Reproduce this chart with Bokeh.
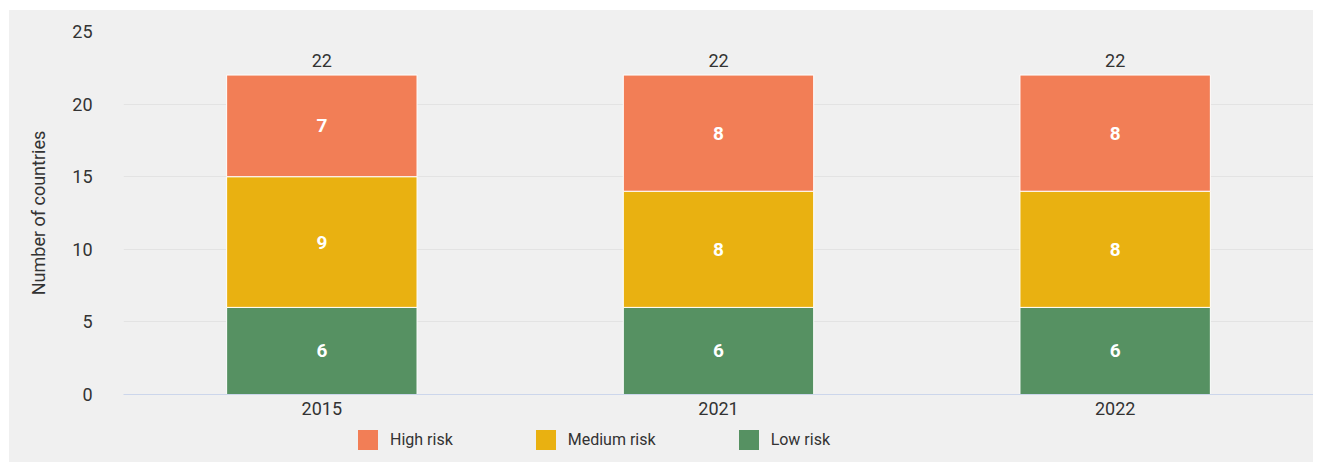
from bokeh.plotting import figure
from bokeh.layouts import column
from bokeh.models import ColumnDataSource, LabelSet, Legend, LegendItem, FixedTicker, Range1d
from bokeh.core.properties import value
from bokeh.embed import file_html
from bokeh.resources import INLINE

years = ["2015", "2021", "2022"]
low_risk = [6, 6, 6]
medium_risk = [9, 8, 8]
high_risk = [7, 8, 8]
series_names = ["Low risk", "Medium risk", "High risk"]
series_colors = ["#569162", "#e9b111", "#f27e56"]
y_ticks = [0, 5, 10, 15, 20, 25]

FONT = "Roboto"
TXT = "#333333"
BG = "#f0f0f0"

totals = [a + b + c for a, b, c in zip(low_risk, medium_risk, high_risk)]
src = ColumnDataSource(dict(year=years, low=low_risk, medium=medium_risk, high=high_risk, total=totals,
                            total_txt=[str(t) for t in totals]))

p = figure(x_range=years, y_range=Range1d(0, 25), width=1304, height=414,
           output_backend="svg", toolbar_location=None,
           min_border_left=114, min_border_right=0, min_border_top=21, min_border_bottom=30,
           background_fill_color=BG, border_fill_color=BG,
           outline_line_color=None)

rs = p.vbar_stack(["low", "medium", "high"], x="year", width=0.48, color=series_colors,
                  line_color="white", line_width=1, source=src)

lab_y = []
lab_txt = []
lab_x = []
for i, y in enumerate(years):
    cum = 0
    for vals in (low_risk, medium_risk, high_risk):
        lab_x.append(y)
        lab_y.append(cum + vals[i] / 2)
        lab_txt.append(str(vals[i]))
        cum += vals[i]
lsrc = ColumnDataSource(dict(x=lab_x, y=lab_y, t=lab_txt))
p.add_layout(LabelSet(x="x", y="y", text="t", source=lsrc, text_align="center", text_baseline="middle",
                      text_color="white", text_font=value(FONT), text_font_style="bold",
                      text_font_size="19px"))
p.add_layout(LabelSet(x="year", y="total", text="total_txt", source=src, text_align="center",
                      text_baseline="bottom", y_offset=8, text_color=TXT, text_font=value(FONT),
                      text_font_size="18px"))

p.xgrid.grid_line_color = None
p.ygrid.grid_line_color = "#e3e3e3"
p.ygrid.grid_line_width = 1
p.yaxis.ticker = FixedTicker(ticks=y_ticks)
p.yaxis.axis_line_color = None
p.yaxis.major_tick_line_color = None
p.yaxis.minor_tick_line_color = None
p.yaxis.major_tick_out = 0
p.yaxis.major_label_standoff = 31
p.yaxis.axis_label = "Number of countries"
p.yaxis.axis_label_standoff = 20
p.yaxis.axis_label_text_font = FONT
p.yaxis.axis_label_text_font_style = "normal"
p.yaxis.axis_label_text_font_size = "18px"
p.yaxis.axis_label_text_color = TXT
p.yaxis.major_label_text_font = FONT
p.yaxis.major_label_text_font_size = "18px"
p.yaxis.major_label_text_color = TXT

p.xaxis.axis_line_color = "#ccd6eb"
p.xaxis.axis_line_width = 1
p.xaxis.major_tick_line_color = None
p.xaxis.major_tick_out = 0
p.xaxis.major_label_standoff = 7
p.xaxis.major_label_text_font = FONT
p.xaxis.major_label_text_font_size = "18px"
p.xaxis.major_label_text_color = TXT

# legend strip
lg = figure(width=1304, height=38, output_backend="svg", toolbar_location=None,
            x_range=Range1d(0, 1), y_range=Range1d(0, 1),
            min_border_left=114, min_border_right=0, min_border_top=0, min_border_bottom=0,
            background_fill_color=BG, border_fill_color=BG, outline_line_color=None)
lg.axis.visible = False
lg.grid.visible = False
items = []
for i in (2, 1, 0):
    r = lg.vbar(x=[5], top=[0.5], width=0.1, fill_color=series_colors[i], line_color=None)
    items.append(LegendItem(label=series_names[i], renderers=[r]))
legend = Legend(items=items, orientation="horizontal", location=(232, 10),
                glyph_width=25, glyph_height=25, label_standoff=10, spacing=80,
                padding=0, margin=0, border_line_color=None, background_fill_alpha=0,
                label_text_font=FONT, label_text_font_size="16px", label_text_color=TXT,
                label_height=25)
lg.add_layout(legend, "center")

layout = column(p, lg, spacing=0, margin=(10, 0, 0, 9), styles={"background-color": BG})
open("out.html", "w").write(file_html(layout, INLINE))
